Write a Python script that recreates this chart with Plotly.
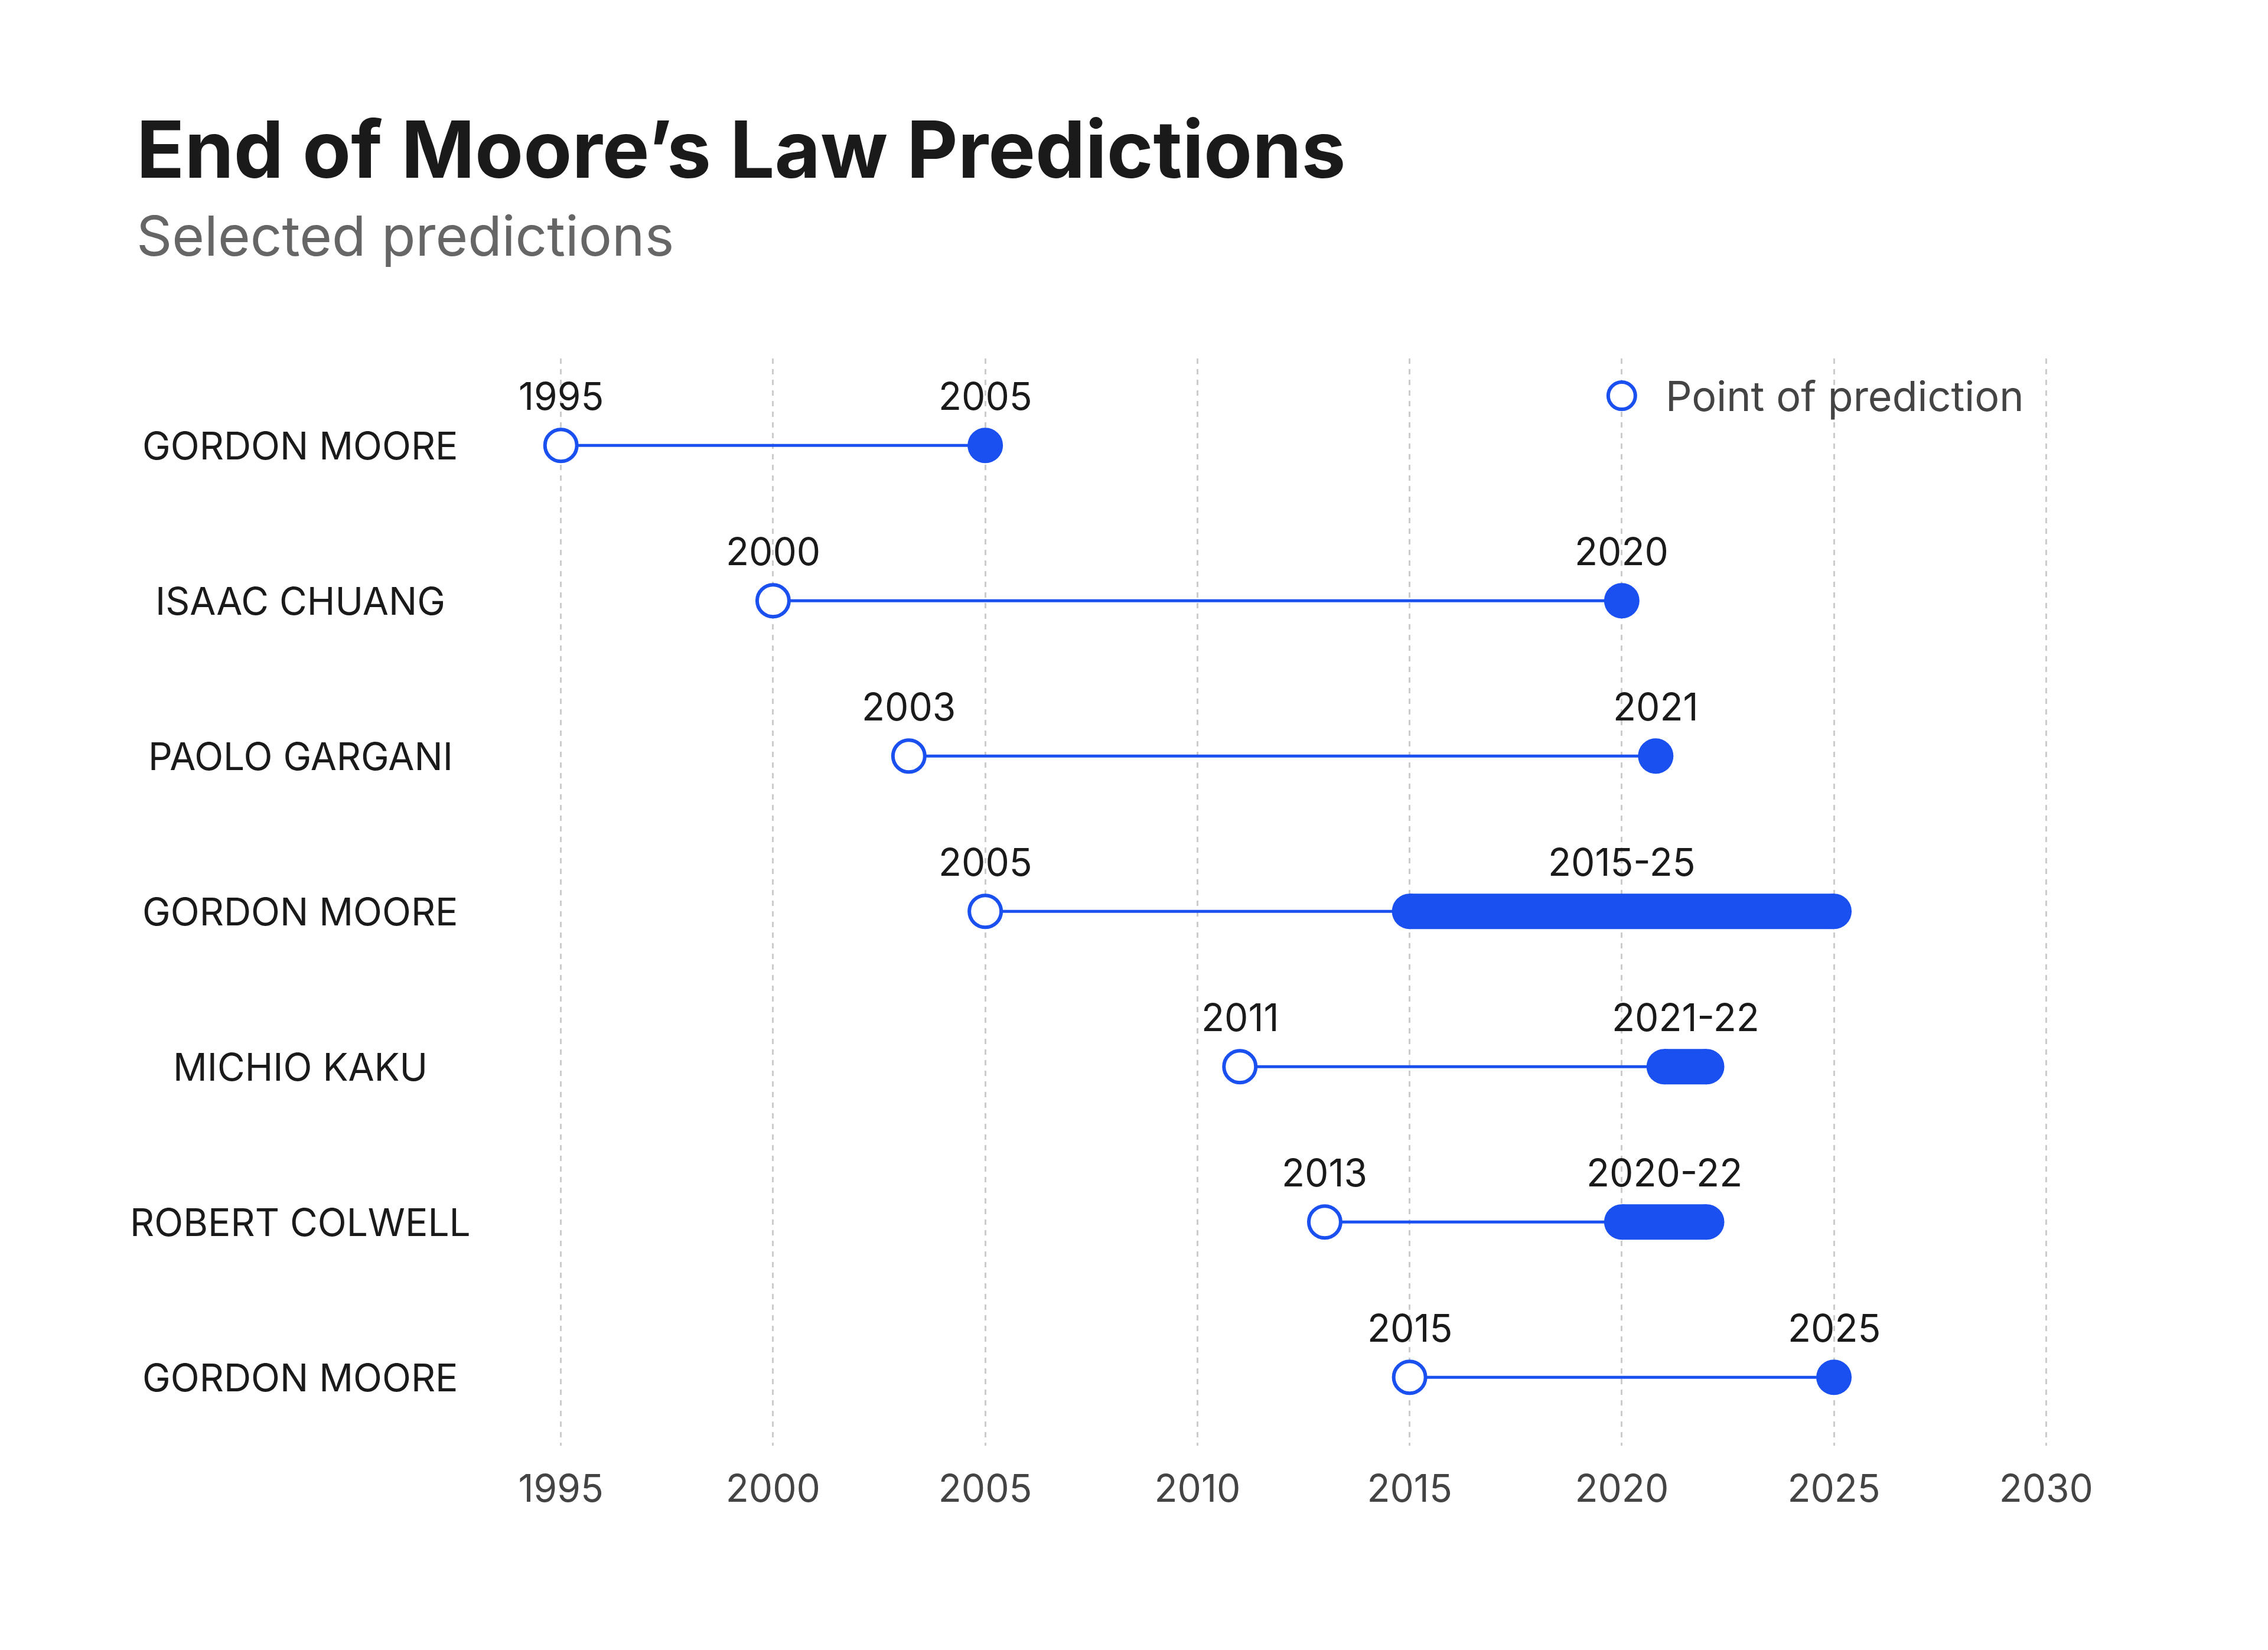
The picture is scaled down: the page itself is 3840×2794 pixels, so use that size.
import plotly.graph_objects as go

BLUE = "#1a4ff0"

names = ["GORDON MOORE", "ISAAC CHUANG", "PAOLO GARGANI", "GORDON MOORE",
         "MICHIO KAKU", "ROBERT COLWELL", "GORDON MOORE"]
made = [1995, 2000, 2003.2, 2005, 2011, 2013, 2015]
made_labels = ["1995", "2000", "2003", "2005", "2011", "2013", "2015"]
end_low = [2005, 2020, 2020.8, 2015, 2021, 2020, 2025]
end_high = [2005, 2020, 2020.8, 2025, 2022, 2022, 2025]
end_labels = ["2005", "2020", "2021", "2015-25", "2021-22", "2020-22", "2025"]
rows = list(range(len(names)))

fig = go.Figure()

for i in rows:
    # connecting line
    fig.add_trace(go.Scatter(x=[made[i], end_low[i]], y=[i, i], mode="lines",
                             line=dict(color=BLUE, width=5), hoverinfo="skip"))
    if end_high[i] != end_low[i]:
        fig.add_trace(go.Scatter(x=[end_low[i], end_high[i]], y=[i, i], mode="lines+markers",
                                 line=dict(color=BLUE, width=60),
                                 marker=dict(color=BLUE, size=60), hoverinfo="skip"))
        fig.add_annotation(x=(end_low[i] + end_high[i]) / 2, y=i, text=end_labels[i],
                           showarrow=False, yshift=84)
    else:
        fig.add_trace(go.Scatter(x=[end_low[i]], y=[i], mode="markers",
                                 marker=dict(color=BLUE, size=60), hoverinfo="skip"))
        fig.add_annotation(x=end_low[i], y=i, text=end_labels[i], showarrow=False, yshift=84)
    fig.add_trace(go.Scatter(x=[made[i]], y=[i], mode="markers",
                             marker=dict(color="white", size=54, line=dict(color=BLUE, width=6)),
                             hoverinfo="skip"))
    fig.add_annotation(x=made[i], y=i, text=made_labels[i], showarrow=False, yshift=84)
    fig.add_annotation(xref="paper", x=-0.106, y=i, text=names[i], showarrow=False,
                       xanchor="center", font=dict(size=64, color="#1a1a1a"))

# legend
fig.add_trace(go.Scatter(x=[2020], y=[-0.32], mode="markers", cliponaxis=False,
                         marker=dict(color="white", size=46, line=dict(color=BLUE, width=6)),
                         hoverinfo="skip"))
fig.add_annotation(x=2021, y=-0.32, text="Point of prediction", showarrow=False,
                   xanchor="left", font=dict(size=70, color="#444444"))

fig.add_annotation(xref="paper", yref="paper", x=-0.206, y=1.193, xanchor="left",
                   yanchor="middle", text="<b>End of Moore’s Law Predictions</b>",
                   showarrow=False, font=dict(size=134, color="#1a1a1a"))
fig.add_annotation(xref="paper", yref="paper", x=-0.206, y=1.113, xanchor="left",
                   yanchor="middle", text="Selected predictions", showarrow=False,
                   font=dict(size=94, color="#666666"))

fig.update_layout(
    width=3840, height=2794, showlegend=False,
    plot_bgcolor="white", paper_bgcolor="white",
    margin=dict(l=798, r=240, t=599, b=354),
    font=dict(family="Inter, Open Sans, sans-serif", size=64, color="#1a1a1a"),
    xaxis=dict(range=[1993, 2032], tickvals=list(range(1995, 2031, 5)),
               showgrid=True, gridcolor="#cccccc", griddash="dash", gridwidth=3,
               zeroline=False, showline=False, ticks="",
               tickfont=dict(size=64, color="#444444"), ticklabelstandoff=30),
    yaxis=dict(range=[6.44, -0.56], showticklabels=False, showgrid=False,
               zeroline=False, showline=False),
)

fig.write_html("out.html")
